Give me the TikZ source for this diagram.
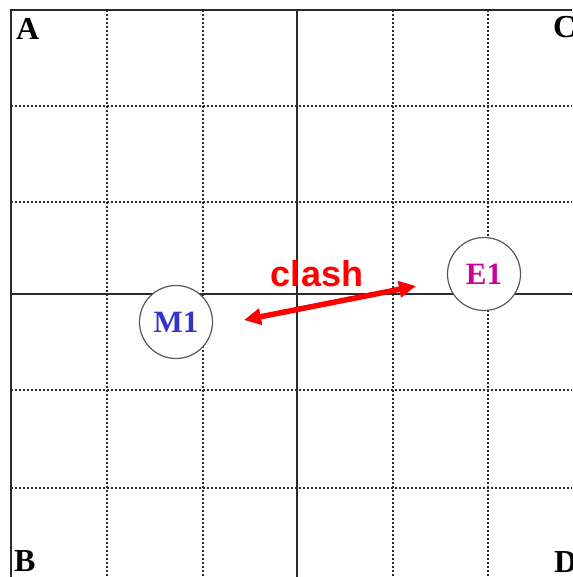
\documentclass[tikz,border=0pt]{standalone}
\usepackage{fontspec}
\setmainfont{Liberation Serif}
\newfontfamily\clashfont{Liberation Sans}
\usetikzlibrary{arrows.meta}
\definecolor{gridc}{HTML}{2A2A2A}
\definecolor{mblue}{HTML}{3333CC}
\definecolor{emag}{HTML}{CC0099}
\tikzset{
  solidline/.style={gridc, line width=2pt},
  dotline/.style={gridc, line width=2pt, dash pattern=on 2pt off 2pt},
  unit/.style={circle, draw=gray!70!black, line width=1.2pt, fill=white, minimum size=73pt, inner sep=0pt, font=\fontsize{31}{31}\selectfont\bfseries},
  corner/.style={inner sep=0pt, anchor=base west, font=\fontsize{32}{32}\selectfont\bfseries},
  clasharrow/.style={red, line width=5.5pt, {Triangle[length=17pt,width=16pt]}-{Triangle[length=17pt,width=16pt]}}
}
\begin{document}
\begin{tikzpicture}[x=1pt,y=-1pt]
\useasboundingbox (0,0) rectangle (572,577);
% dotted grid lines
\foreach \v in {107,203,393,488} {
  \draw[dotline] (\v,10) -- (\v,577);
}
\foreach \h in {106,202,390,488} {
  \draw[dotline] (11,\h) -- (572,\h);
}
% solid lines
\draw[solidline] (11,577) -- (11,10) -- (572,10);
\draw[solidline] (297,10) -- (297,577);
\draw[solidline] (11,294) -- (572,294);
% corner labels
\node[corner] (A) at (16,40) {A};
\node[corner] (C) at (553,38) {C};
\node[corner] (B) at (14,571) {B};
\node[corner] (D) at (554,572) {D};
% units
\node[unit, text=mblue] (M1) at (176,322) {M1};
\node[unit, text=emag] (E1) at (484,274) {E1};
% clash arrow
\coordinate (p1) at (244,320);
\coordinate (p2) at (416,286);
\draw[clasharrow] (p1) -- (p2);
\node[red, inner sep=0pt, anchor=base, font=\clashfont\fontsize{36}{36}\selectfont\bfseries] (clash) at (317,286) {clash};
\end{tikzpicture}
\end{document}
